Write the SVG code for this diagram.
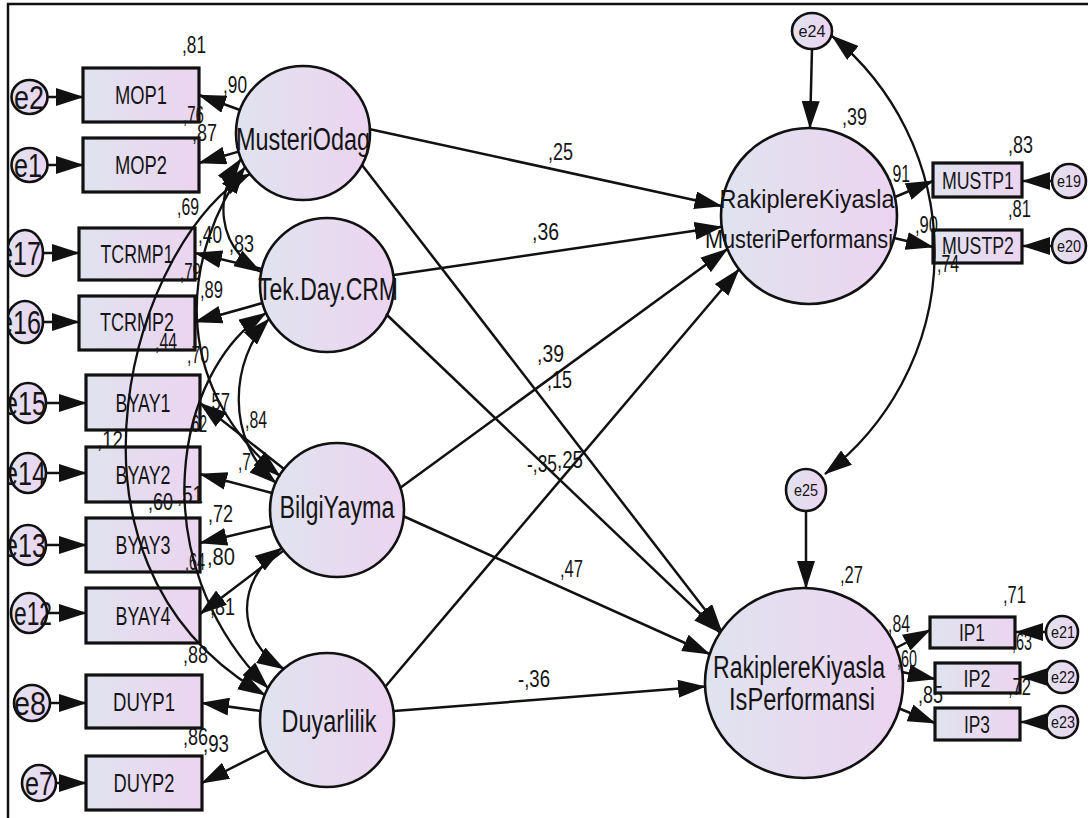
<svg xmlns="http://www.w3.org/2000/svg" width="1088" height="818" viewBox="0 0 1088 818">
  <style>
    text { font-family: "Liberation Sans", Arial, sans-serif; fill: #151515; }
    .lat { font-size: 31px; text-anchor: middle; }
    .latr { font-size: 26px; text-anchor: middle; }
    .obs { font-size: 26px; text-anchor: middle; }
    .obsr { font-size: 23px; text-anchor: middle; }
    .err { font-size: 34px; text-anchor: middle; }
    .errr { font-size: 17px; text-anchor: middle; }
    .num { font-size: 23px; }
    .shape { fill: url(#fill); stroke: #111; stroke-width: 2.6; }
    .box { fill: url(#fill); stroke: #111; stroke-width: 3.2; }
    .c { fill: none; stroke: #111; stroke-width: 2.5; marker-end: url(#ah); }
    .cv { fill: none; stroke: #111; stroke-width: 2.3; marker-start: url(#ah); marker-end: url(#ah); }
  </style>
  <defs>
    <linearGradient id="fill" x1="0" y1="0" x2="1" y2="0">
      <stop offset="0" stop-color="#e0e3ef"/>
      <stop offset="1" stop-color="#ecd4f0"/>
    </linearGradient>
    <marker id="ah" viewBox="0 0 28 18" refX="27" refY="9" markerWidth="28" markerHeight="18" markerUnits="userSpaceOnUse" orient="auto-start-reverse">
      <path d="M0,0L28,9L0,18z" fill="#111"/>
    </marker>
    <clipPath id="frame">
      <rect x="9" y="5" width="1079" height="813"/>
    </clipPath>
  </defs>

  <rect width="1088" height="818" fill="#fff"/>

  <g clip-path="url(#frame)">
    <!-- latent variables -->
    <g id="MusteriOdag">
      <circle class="shape" cx="303" cy="133" r="67"/>
      <text class="lat" x="303" y="150" textLength="134" lengthAdjust="spacingAndGlyphs">MusteriOdag</text>
    </g>
    <g id="TekDayCRM">
      <circle class="shape" cx="327" cy="285" r="67"/>
      <text class="lat" x="328" y="300" textLength="140" lengthAdjust="spacingAndGlyphs">Tek.Day.CRM</text>
    </g>
    <g id="BilgiYayma">
      <circle class="shape" cx="337" cy="510" r="67"/>
      <text class="lat" x="337" y="518" textLength="115" lengthAdjust="spacingAndGlyphs">BilgiYayma</text>
    </g>
    <g id="Duyarlilik">
      <circle class="shape" cx="327" cy="720" r="67"/>
      <text class="lat" x="329" y="732" textLength="95" lengthAdjust="spacingAndGlyphs">Duyarlilik</text>
    </g>
    <g id="MusteriPerformansi">
      <circle class="shape" cx="809" cy="216" r="88"/>
      <text class="latr" x="807" y="208" textLength="175" lengthAdjust="spacingAndGlyphs">RakiplereKiyasla</text>
      <text class="latr" x="799" y="248" textLength="188" lengthAdjust="spacingAndGlyphs">MusteriPerformansi</text>
    </g>
    <g id="IsPerformansi">
      <ellipse class="shape" cx="804" cy="683" rx="99" ry="95"/>
      <text class="lat" x="799" y="678" textLength="172" lengthAdjust="spacingAndGlyphs">RakiplereKiyasla</text>
      <text class="lat" x="802" y="710" textLength="146" lengthAdjust="spacingAndGlyphs">IsPerformansi</text>
    </g>

    <!-- observed indicators -->
    <g id="MOP1"><rect class="box" x="83" y="68" width="116" height="54"/><text class="obs" x="141" y="104" textLength="52" lengthAdjust="spacingAndGlyphs">MOP1</text></g>
    <g id="MOP2"><rect class="box" x="83" y="138" width="116" height="54"/><text class="obs" x="141" y="174" textLength="52" lengthAdjust="spacingAndGlyphs">MOP2</text></g>
    <g id="TCRMP1"><rect class="box" x="79" y="228" width="116" height="52"/><text class="obs" x="137" y="263" textLength="73" lengthAdjust="spacingAndGlyphs">TCRMP1</text></g>
    <g id="TCRMP2"><rect class="box" x="79" y="296" width="116" height="54"/><text class="obs" x="137" y="331" textLength="74" lengthAdjust="spacingAndGlyphs">TCRMP2</text></g>
    <g id="BYAY1"><rect class="box" x="86" y="375" width="114" height="55"/><text class="obs" x="143" y="412" textLength="55" lengthAdjust="spacingAndGlyphs">BYAY1</text></g>
    <g id="BYAY2"><rect class="box" x="86" y="447" width="114" height="55"/><text class="obs" x="143" y="484" textLength="55" lengthAdjust="spacingAndGlyphs">BYAY2</text></g>
    <g id="BYAY3"><rect class="box" x="86" y="518" width="114" height="54"/><text class="obs" x="143" y="554" textLength="55" lengthAdjust="spacingAndGlyphs">BYAY3</text></g>
    <g id="BYAY4"><rect class="box" x="86" y="588" width="114" height="55"/><text class="obs" x="143" y="625" textLength="55" lengthAdjust="spacingAndGlyphs">BYAY4</text></g>
    <g id="DUYP1"><rect class="box" x="86" y="675" width="116" height="53"/><text class="obs" x="144" y="711" textLength="62" lengthAdjust="spacingAndGlyphs">DUYP1</text></g>
    <g id="DUYP2"><rect class="box" x="86" y="756" width="116" height="54"/><text class="obs" x="144" y="792" textLength="61" lengthAdjust="spacingAndGlyphs">DUYP2</text></g>
    <g id="MUSTP1"><rect class="box" x="933" y="163" width="89" height="34"/><text class="obsr" x="978" y="189" textLength="72" lengthAdjust="spacingAndGlyphs">MUSTP1</text></g>
    <g id="MUSTP2"><rect class="box" x="933" y="230" width="89" height="33"/><text class="obsr" x="978" y="254" textLength="72" lengthAdjust="spacingAndGlyphs">MUSTP2</text></g>
    <g id="IP1"><rect class="box" x="930" y="617" width="85" height="31"/><text class="obsr" x="972" y="641" textLength="26" lengthAdjust="spacingAndGlyphs">IP1</text></g>
    <g id="IP2"><rect class="box" x="935" y="663" width="85" height="30"/><text class="obsr" x="977" y="687" textLength="27" lengthAdjust="spacingAndGlyphs">IP2</text></g>
    <g id="IP3"><rect class="box" x="935" y="708" width="85" height="32"/><text class="obsr" x="977" y="733" textLength="26" lengthAdjust="spacingAndGlyphs">IP3</text></g>

    <!-- error terms -->
    <g id="e2"><ellipse class="shape" cx="29.5" cy="97" rx="18" ry="17"/><text class="err" x="29" y="109" textLength="30" lengthAdjust="spacingAndGlyphs">e2</text></g>
    <g id="e1"><ellipse class="shape" cx="29.5" cy="165" rx="18" ry="17"/><text class="err" x="28" y="177" textLength="28" lengthAdjust="spacingAndGlyphs">e1</text></g>
    <g id="e17"><ellipse class="shape" cx="25" cy="253" rx="18" ry="23"/><text class="err" x="20" y="265" textLength="42" lengthAdjust="spacingAndGlyphs">e17</text></g>
    <g id="e16"><ellipse class="shape" cx="25" cy="322" rx="18" ry="21"/><text class="err" x="20" y="334" textLength="42" lengthAdjust="spacingAndGlyphs">e16</text></g>
    <g id="e15"><ellipse class="shape" cx="28" cy="403" rx="18" ry="20"/><text class="err" x="25" y="415" textLength="42" lengthAdjust="spacingAndGlyphs">e15</text></g>
    <g id="e14"><ellipse class="shape" cx="28" cy="473" rx="18" ry="20"/><text class="err" x="25" y="485" textLength="42" lengthAdjust="spacingAndGlyphs">e14</text></g>
    <g id="e13"><ellipse class="shape" cx="28" cy="545" rx="18" ry="20"/><text class="err" x="25" y="557" textLength="42" lengthAdjust="spacingAndGlyphs">e13</text></g>
    <g id="e12"><ellipse class="shape" cx="29" cy="613" rx="18" ry="20"/><text class="err" x="33" y="625" textLength="38" lengthAdjust="spacingAndGlyphs">e12</text></g>
    <g id="e8"><ellipse class="shape" cx="32" cy="703" rx="18" ry="18"/><text class="err" x="30" y="715" textLength="32" lengthAdjust="spacingAndGlyphs">e8</text></g>
    <g id="e7"><ellipse class="shape" cx="39" cy="783" rx="17" ry="18"/><text class="err" x="39" y="795" textLength="28" lengthAdjust="spacingAndGlyphs">e7</text></g>
    <g id="e24"><ellipse class="shape" cx="812" cy="31" rx="20" ry="18"/><text class="errr" x="812" y="37" textLength="27" lengthAdjust="spacingAndGlyphs">e24</text></g>
    <g id="e25"><ellipse class="shape" cx="806" cy="490" rx="20" ry="21"/><text class="errr" x="806" y="496" textLength="24" lengthAdjust="spacingAndGlyphs">e25</text></g>
    <g id="e19"><ellipse class="shape" cx="1069" cy="181" rx="17" ry="17"/><text class="errr" x="1069" y="187" textLength="24" lengthAdjust="spacingAndGlyphs">e19</text></g>
    <g id="e20"><ellipse class="shape" cx="1069" cy="246" rx="17" ry="17"/><text class="errr" x="1069" y="252" textLength="24" lengthAdjust="spacingAndGlyphs">e20</text></g>
    <g id="e21"><ellipse class="shape" cx="1062" cy="632" rx="16" ry="16"/><text class="errr" x="1063" y="638" textLength="24" lengthAdjust="spacingAndGlyphs">e21</text></g>
    <g id="e22"><ellipse class="shape" cx="1062" cy="677" rx="16" ry="16"/><text class="errr" x="1063" y="683" textLength="24" lengthAdjust="spacingAndGlyphs">e22</text></g>
    <g id="e23"><ellipse class="shape" cx="1062" cy="722" rx="16" ry="16"/><text class="errr" x="1063" y="728" textLength="24" lengthAdjust="spacingAndGlyphs">e23</text></g>

    <!-- estimates -->
    <g id="estimates" class="num">
      <text x="182" y="53" textLength="24" lengthAdjust="spacingAndGlyphs">,81</text>
      <text x="223" y="93" textLength="24" lengthAdjust="spacingAndGlyphs">,90</text>
      <text x="183" y="123" textLength="21" lengthAdjust="spacingAndGlyphs">,76</text>
      <text x="192" y="141" textLength="25" lengthAdjust="spacingAndGlyphs">,87</text>
      <text x="177" y="215" textLength="22" lengthAdjust="spacingAndGlyphs">,69</text>
      <text x="198" y="243" textLength="24" lengthAdjust="spacingAndGlyphs">,40</text>
      <text x="229" y="252" textLength="25" lengthAdjust="spacingAndGlyphs">,83</text>
      <text x="180" y="280" textLength="21" lengthAdjust="spacingAndGlyphs">,79</text>
      <text x="200" y="298" textLength="23" lengthAdjust="spacingAndGlyphs">,89</text>
      <text x="155" y="350" textLength="22" lengthAdjust="spacingAndGlyphs">,44</text>
      <text x="187" y="363" textLength="22" lengthAdjust="spacingAndGlyphs">,70</text>
      <text x="207" y="410" textLength="23" lengthAdjust="spacingAndGlyphs">,57</text>
      <text x="245" y="428" textLength="22" lengthAdjust="spacingAndGlyphs">,84</text>
      <text x="188" y="432" textLength="19" lengthAdjust="spacingAndGlyphs">,62</text>
      <text x="97" y="448" textLength="26" lengthAdjust="spacingAndGlyphs">,12</text>
      <text x="238" y="470" textLength="13" lengthAdjust="spacingAndGlyphs">,7</text>
      <text x="148" y="510" textLength="25" lengthAdjust="spacingAndGlyphs">,60</text>
      <text x="177" y="503" textLength="26" lengthAdjust="spacingAndGlyphs">,51</text>
      <text x="208" y="522" textLength="25" lengthAdjust="spacingAndGlyphs">,72</text>
      <text x="185" y="570" textLength="20" lengthAdjust="spacingAndGlyphs">,64</text>
      <text x="207" y="565" textLength="28" lengthAdjust="spacingAndGlyphs">,80</text>
      <text x="210" y="615" textLength="25" lengthAdjust="spacingAndGlyphs">,81</text>
      <text x="183" y="663" textLength="25" lengthAdjust="spacingAndGlyphs">,88</text>
      <text x="183" y="745" textLength="25" lengthAdjust="spacingAndGlyphs">,86</text>
      <text x="203" y="752" textLength="26" lengthAdjust="spacingAndGlyphs">,93</text>
      <text x="548" y="160" textLength="25" lengthAdjust="spacingAndGlyphs">,25</text>
      <text x="532" y="240" textLength="27" lengthAdjust="spacingAndGlyphs">,36</text>
      <text x="537" y="362" textLength="27" lengthAdjust="spacingAndGlyphs">,39</text>
      <text x="547" y="388" textLength="25" lengthAdjust="spacingAndGlyphs">,15</text>
      <text x="527" y="472" textLength="30" lengthAdjust="spacingAndGlyphs">-,35</text>
      <text x="557" y="468" textLength="26" lengthAdjust="spacingAndGlyphs">,25</text>
      <text x="560" y="577" textLength="23" lengthAdjust="spacingAndGlyphs">,47</text>
      <text x="518" y="687" textLength="32" lengthAdjust="spacingAndGlyphs">-,36</text>
      <text x="842" y="125" textLength="25" lengthAdjust="spacingAndGlyphs">,39</text>
      <text x="1008" y="153" textLength="25" lengthAdjust="spacingAndGlyphs">,83</text>
      <text x="888" y="182" textLength="22" lengthAdjust="spacingAndGlyphs">,91</text>
      <text x="1008" y="217" textLength="23" lengthAdjust="spacingAndGlyphs">,81</text>
      <text x="915" y="233" textLength="23" lengthAdjust="spacingAndGlyphs">,90</text>
      <text x="937" y="272" textLength="22" lengthAdjust="spacingAndGlyphs">,74</text>
      <text x="840" y="583" textLength="23" lengthAdjust="spacingAndGlyphs">,27</text>
      <text x="1003" y="603" textLength="23" lengthAdjust="spacingAndGlyphs">,71</text>
      <text x="888" y="632" textLength="22" lengthAdjust="spacingAndGlyphs">,84</text>
      <text x="897" y="667" textLength="20" lengthAdjust="spacingAndGlyphs">,60</text>
      <text x="918" y="703" textLength="25" lengthAdjust="spacingAndGlyphs">,85</text>
      <text x="1012" y="650" textLength="20" lengthAdjust="spacingAndGlyphs">,63</text>
      <text x="1008" y="695" textLength="23" lengthAdjust="spacingAndGlyphs">,72</text>
    </g>

    <!-- connectors -->
    <g id="connectors">
      <!-- error terms to indicators -->
      <path class="c" d="M47.5,97H83"/>
      <path class="c" d="M47.5,165H83"/>
      <path class="c" d="M43,253H79"/>
      <path class="c" d="M43,322H79"/>
      <path class="c" d="M46,403H86"/>
      <path class="c" d="M46,473H86"/>
      <path class="c" d="M46,545H86"/>
      <path class="c" d="M47,613H86"/>
      <path class="c" d="M50,703H86"/>
      <path class="c" d="M56,783H86"/>
      <path class="c" d="M1052,181H1023"/>
      <path class="c" d="M1052,246H1023"/>
      <path class="c" d="M1046,632H1016"/>
      <path class="c" d="M1046,677H1021"/>
      <path class="c" d="M1046,722H1021"/>
      <path class="c" d="M812,49L810,128"/>
      <path class="c" d="M806,511V588"/>

      <!-- loadings -->
      <path class="c" d="M240,110L199,95"/>
      <path class="c" d="M238.6,151.6L199,163"/>
      <path class="c" d="M262,269L195,253"/>
      <path class="c" d="M262.5,303L195,322"/>
      <path class="c" d="M284,469L200,403"/>
      <path class="c" d="M272,493L200,474"/>
      <path class="c" d="M272,526L200,543"/>
      <path class="c" d="M283.6,550.5L200,614"/>
      <path class="c" d="M260.6,711L202,703"/>
      <path class="c" d="M267,750L202,783"/>
      <path class="c" d="M895,197L933,181"/>
      <path class="c" d="M894,238L933,247"/>
      <path class="c" d="M896,648L930,630"/>
      <path class="c" d="M902,672L935,679"/>
      <path class="c" d="M898,708L935,723"/>

      <!-- structural paths -->
      <path class="c" d="M369,129L721.5,206"/>
      <path class="c" d="M394,275L721.7,226.8"/>
      <path class="c" d="M400,488L727.4,249"/>
      <path class="c" d="M385,687L739,269.3"/>
      <path class="c" d="M362,165L721.5,631"/>
      <path class="c" d="M386,314L720,632.6"/>
      <path class="c" d="M403,516L709.5,654"/>
      <path class="c" d="M394,711L705,686.6"/>

      <!-- covariances -->
      <path class="cv" d="M241,159C215,195 215,245 261,272"/>
      <path class="cv" d="M245,167C185,250 165,380 280,476"/>
      <path class="cv" d="M250,174C140,230 30,560 265,695"/>
      <path class="cv" d="M269,319C230,360 225,440 276,483"/>
      <path class="cv" d="M266,313C175,370 140,560 268,688"/>
      <path class="cv" d="M282,548C235,580 235,640 284,669"/>
      <path class="cv" d="M832,36A279,279 0 0 1 825,474"/>
    </g>
  </g>

  <!-- frame -->
  <path d="M8,818V4H1088" fill="none" stroke="#111" stroke-width="2.5"/>
</svg>
